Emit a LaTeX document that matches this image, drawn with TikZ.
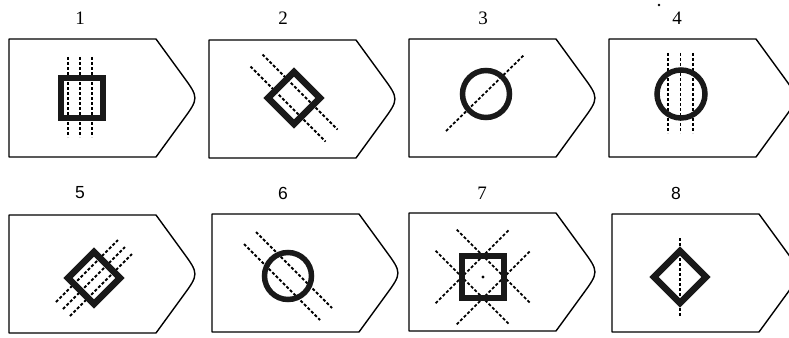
\documentclass[tikz,border=0pt]{standalone}
\usepackage{fontspec}
\newfontfamily\sansdig{Liberation Sans}
\newfontfamily\serifdig{Liberation Serif}
\usetikzlibrary{calc}
\begin{document}
\begin{tikzpicture}[x=1pt,y=-1pt,
  tagline/.style={line width=1.4pt, line join=round},
  frame/.style={line width=6.5pt, draw=black!90},
  ring/.style={line width=5.5pt, draw=black!90},
  guide/.style={line width=1.8pt, dash pattern=on 3pt off 2pt},
  numserif/.style={font=\serifdig\fontsize{19}{21}\selectfont},
  numsans/.style={font=\sansdig\fontsize{17.5}{21}\selectfont}]
\useasboundingbox (0,0) rectangle (789,337);
% tag outline: left x, top y
\newcommand\tagoutline[2]{%
  \draw[tagline] (#1+147,#2) -- (#1,#2) -- (#1,#2+118) -- (#1+147,#2+118)
    -- ($(#1+147,#2+118)!0.62!(#1+190,#2+59)$)
    .. controls (#1+190,#2+59) ..
    ($(#1+147,#2)!0.62!(#1+190,#2+59)$) -- cycle;}
\tagoutline{9}{39}
\tagoutline{209}{40}
\tagoutline{409}{39}
\tagoutline{609}{39}
\tagoutline{9}{215}
\tagoutline{212}{214}
\tagoutline{409}{213}
\tagoutline{612}{214}
% labels
\node[numserif] (l1) at (80,18) {1};
\node[numserif] (l2) at (283,18) {2};
\node[numserif] (l3) at (483,18) {3};
\node[numserif] (l4) at (677,18) {4};
\node[numsans] (l5) at (80,193) {5};
\node[numsans] (l6) at (283,193) {6};
\node[numserif] (l7) at (482,193) {7};
\node[numsans] (l8) at (676,193) {8};
\fill (659,5) circle (1.4);
% panel 1
\foreach \x in {68,80,92} \draw[guide] (\x,57) -- (\x,137);
\draw[frame] (61,78) rectangle (103,118);
% panel 2
\draw[guide] (262.5,54.5) -- (337.5,129.5);
\draw[guide] (250.5,66.5) -- (325.5,141.5);
\draw[frame] (294,72) -- (320,98) -- (294,124) -- (268,98) -- cycle;
% panel 3
\draw[guide] (446,131) -- (524,55);
\draw[ring] (486,94) circle (23.5);
% panel 4
\foreach \x in {668,680.5,693} \draw[guide] (\x,53) -- (\x,133);
\draw[ring] (681,94) circle (24);
% panel 5
\draw[guide] (56,302) -- (118,240);
\draw[guide] (63,309) -- (125,247);
\draw[guide] (70,316) -- (132,254);
\draw[frame] (94,252) -- (120,278) -- (94,304) -- (68,278) -- cycle;
% panel 6
\draw[guide] (256,232) -- (332,308);
\draw[guide] (244,244) -- (320,320);
\draw[ring] (288,276) circle (23.5);
% panel 7
\draw[guide] (456.8,229.6) -- (530.4,303.2);
\draw[guide] (435.6,250.8) -- (509.2,324.4);
\draw[guide] (456.8,324.4) -- (530.4,250.8);
\draw[guide] (435.6,303.2) -- (509.2,229.6);
\draw[frame] (462,256) rectangle (504,298);
\fill (483,277) circle (1.6);
% panel 8
\draw[guide] (680,238) -- (680,317);
\draw[frame] (680,251) -- (706,277) -- (680,303) -- (654,277) -- cycle;
\end{tikzpicture}
\end{document}
